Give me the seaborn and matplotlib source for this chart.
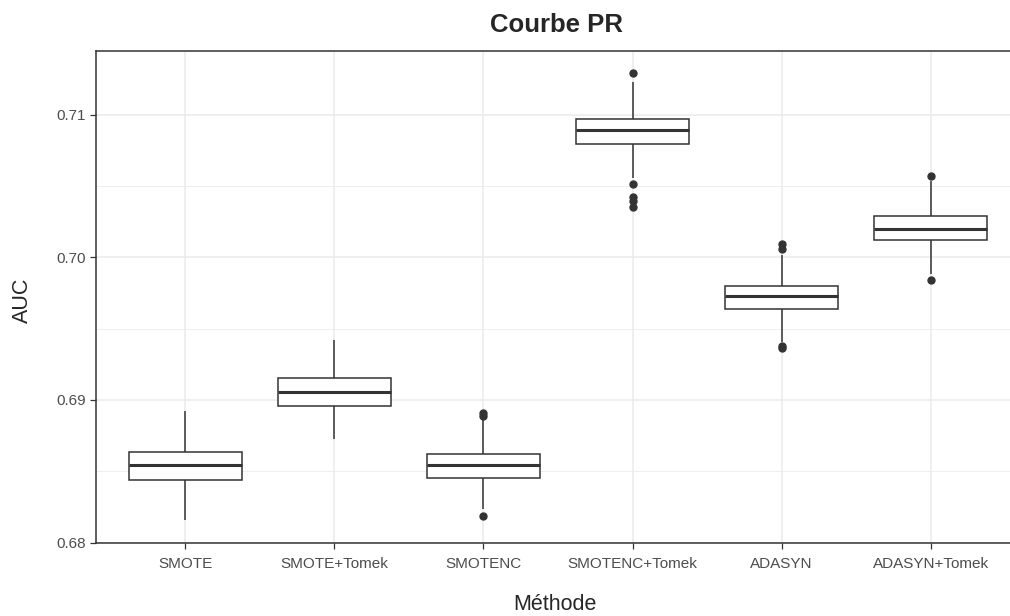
import pandas as pd
import seaborn as sns
import matplotlib.pyplot as plt
from matplotlib.ticker import FixedLocator

# Methods (x categories)
methodes = ['SMOTE', 'SMOTE+Tomek', 'SMOTENC', 'SMOTENC+Tomek', 'ADASYN', 'ADASYN+Tomek']

# AUC values per method
auc_smote = [0.68161, 0.68280, 0.68350, 0.68400, 0.68425, 0.68441, 0.68460, 0.68480, 0.68500, 0.68520, 0.68541,
             0.68560, 0.68580, 0.68600, 0.68620, 0.68634, 0.68670, 0.68720, 0.68780, 0.68850, 0.68920]
auc_smote_tomek = [0.68725, 0.68820, 0.68880, 0.68920, 0.68945, 0.68960, 0.68980, 0.69000, 0.69020, 0.69040, 0.69054,
                   0.69070, 0.69090, 0.69110, 0.69130, 0.69152, 0.69180, 0.69230, 0.69290, 0.69350, 0.69420]
auc_smotenc = [0.68190, 0.68235, 0.68320, 0.68390, 0.68430, 0.68455, 0.68470, 0.68490, 0.68505, 0.68525, 0.68541,
               0.68560, 0.68575, 0.68590, 0.68610, 0.68625, 0.68660, 0.68720, 0.68860, 0.68890, 0.68910]
auc_smotenc_tomek = [0.70350, 0.70395, 0.70420, 0.70515, 0.70555, 0.70792, 0.70810, 0.70830, 0.70850, 0.70870, 0.70890,
                     0.70905, 0.70920, 0.70935, 0.70950, 0.70968, 0.71000, 0.71060, 0.71140, 0.71225, 0.71289]
auc_adasyn = [0.69362, 0.69380, 0.69408, 0.69500, 0.69580, 0.69634, 0.69650, 0.69670, 0.69690, 0.69710, 0.69727,
              0.69740, 0.69755, 0.69770, 0.69785, 0.69799, 0.69840, 0.69900, 0.70014, 0.70056, 0.70091]
auc_adasyn_tomek = [0.69844, 0.69886, 0.69980, 0.70040, 0.70090, 0.70119, 0.70135, 0.70150, 0.70165, 0.70180, 0.70198,
                    0.70215, 0.70235, 0.70250, 0.70270, 0.70289, 0.70330, 0.70390, 0.70460, 0.70534, 0.70569]

all_auc = [auc_smote, auc_smote_tomek, auc_smotenc, auc_smotenc_tomek, auc_adasyn, auc_adasyn_tomek]
df = pd.DataFrame({
    'Méthode': [m for m, vals in zip(methodes, all_auc) for _ in vals],
    'AUC': [v for vals in all_auc for v in vals],
})

sns.set_style('white')
plt.rcParams['font.family'] = ['Liberation Sans', 'DejaVu Sans']

dark = '#333333'
grid_col = '#EBEBEB'

fig = plt.figure(figsize=(10.1, 6.16), dpi=100)
ax = fig.add_axes([96 / 1010, (616 - 543) / 616, (1020 - 96) / 1010, (543 - 51) / 616])

sns.boxplot(data=df, x='Méthode', y='AUC', order=methodes, ax=ax,
            width=0.76, color='white', linecolor=dark, linewidth=1.1,
            showcaps=False, whis=1.5, fliersize=5,
            flierprops=dict(marker='o', markerfacecolor=dark, markeredgecolor=dark),
            medianprops=dict(linewidth=2.2, color=dark))

ax.set_xlim(-0.6, len(methodes) - 0.4)
ax.set_ylim(0.67998, 0.71445)
ax.yaxis.set_major_locator(FixedLocator([0.68, 0.69, 0.70, 0.71]))
ax.yaxis.set_minor_locator(FixedLocator([0.685, 0.695, 0.705]))
ax.set_yticklabels(['0.68', '0.69', '0.70', '0.71'])

ax.set_axisbelow(True)
ax.grid(True, which='major', color=grid_col, linewidth=1.1)
ax.grid(True, which='minor', axis='y', color=grid_col, linewidth=0.6)

for s in ax.spines.values():
    s.set_color(dark)
    s.set_linewidth(1.1)
ax.tick_params(axis='both', which='major', direction='out', length=4, width=0.9,
               bottom=True, left=True, color=dark, labelcolor='#4D4D4D', labelsize=11, pad=3)
ax.tick_params(axis='x', which='major', pad=6)
ax.tick_params(axis='y', which='minor', length=0, left=False)

ax.set_xlabel('')
ax.set_ylabel('')
fig.text(557 / 1010, 1 - 25 / 616, 'Courbe PR', ha='center', va='center', fontsize=18.5, fontweight='bold')
fig.text(555 / 1010, 1 - 604 / 616, 'Méthode', ha='center', va='center', fontsize=15.5)
fig.text(22 / 1010, 1 - 300 / 616, 'AUC', ha='center', va='center', rotation=90, fontsize=15.5)

fig.savefig('out.png', dpi=100)
